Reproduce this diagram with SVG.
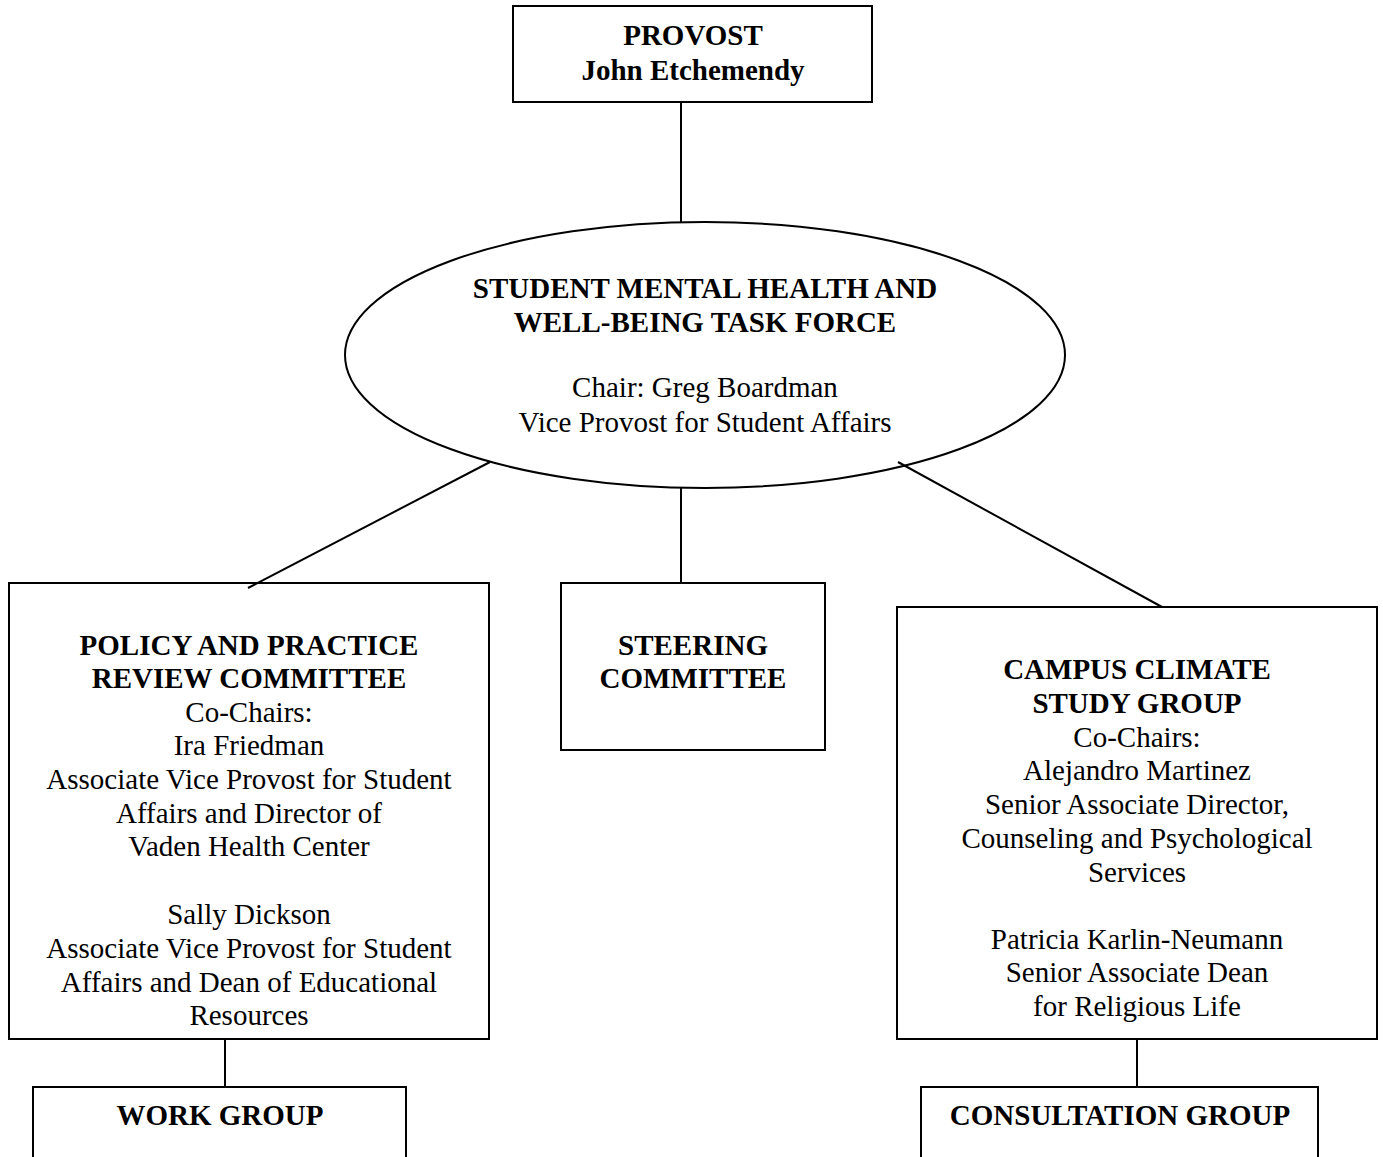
<svg xmlns="http://www.w3.org/2000/svg" width="1383" height="1157" viewBox="0 0 1383 1157">
<style>
.box{fill:none;stroke:#000;stroke-width:2}
.ln{stroke:#000;stroke-width:2;fill:none}
text{font-family:"Liberation Serif","Times New Roman",serif;font-size:29px;fill:#000;text-anchor:middle}
.b{font-weight:bold}
</style>
<rect width="1383" height="1157" fill="#fff"/>
<g id="connectors">
<line class="ln" x1="490" y1="462" x2="248" y2="588"/>
<line class="ln" x1="681" y1="102" x2="681" y2="223"/>
<line class="ln" x1="681" y1="488" x2="681" y2="583"/>
<line class="ln" x1="898" y1="462" x2="1162" y2="607"/>
<line class="ln" x1="225" y1="1039" x2="225" y2="1087"/>
<line class="ln" x1="1137" y1="1039" x2="1137" y2="1087"/>
</g>
<g id="provost">
<rect class="box" x="513" y="6" width="359" height="96"/>
<text class="b" x="693" y="45">PROVOST</text>
<text class="b" x="693" y="80">John Etchemendy</text>
</g>
<g id="taskforce">
<ellipse cx="705" cy="355" rx="360" ry="133" fill="none" stroke="#000" stroke-width="2"/>
<text class="b" x="705" y="298">STUDENT MENTAL HEALTH AND</text>
<text class="b" x="705" y="332">WELL-BEING TASK FORCE</text>
<text x="705" y="397">Chair: Greg Boardman</text>
<text x="705" y="432">Vice Provost for Student Affairs</text>
</g>
<g id="policy">
<rect class="box" x="9" y="583" width="480" height="456"/>
<text class="b" x="249" y="655">POLICY AND PRACTICE</text>
<text class="b" x="249" y="688">REVIEW COMMITTEE</text>
<text x="249" y="722">Co-Chairs:</text>
<text x="249" y="755">Ira Friedman</text>
<text x="249" y="789">Associate Vice Provost for Student</text>
<text x="249" y="823">Affairs and Director of</text>
<text x="249" y="856">Vaden Health Center</text>
<text x="249" y="924">Sally Dickson</text>
<text x="249" y="958">Associate Vice Provost for Student</text>
<text x="249" y="992">Affairs and Dean of Educational</text>
<text x="249" y="1025">Resources</text>
</g>
<g id="steering">
<rect class="box" x="561" y="583" width="264" height="167"/>
<text class="b" x="693" y="655">STEERING</text>
<text class="b" x="693" y="688">COMMITTEE</text>
</g>
<g id="campus">
<rect class="box" x="897" y="607" width="480" height="432"/>
<text class="b" x="1137" y="679">CAMPUS CLIMATE</text>
<text class="b" x="1137" y="713">STUDY GROUP</text>
<text x="1137" y="747">Co-Chairs:</text>
<text x="1137" y="780">Alejandro Martinez</text>
<text x="1137" y="814">Senior Associate Director,</text>
<text x="1137" y="848">Counseling and Psychological</text>
<text x="1137" y="882">Services</text>
<text x="1137" y="949">Patricia Karlin-Neumann</text>
<text x="1137" y="982">Senior Associate Dean</text>
<text x="1137" y="1016">for Religious Life</text>
</g>
<g id="workgroup">
<rect class="box" x="33" y="1087" width="373" height="90"/>
<text class="b" x="220" y="1125">WORK GROUP</text>
</g>
<g id="consultation">
<rect class="box" x="921" y="1087" width="397" height="90"/>
<text class="b" x="1120" y="1125">CONSULTATION GROUP</text>
</g>
</svg>
